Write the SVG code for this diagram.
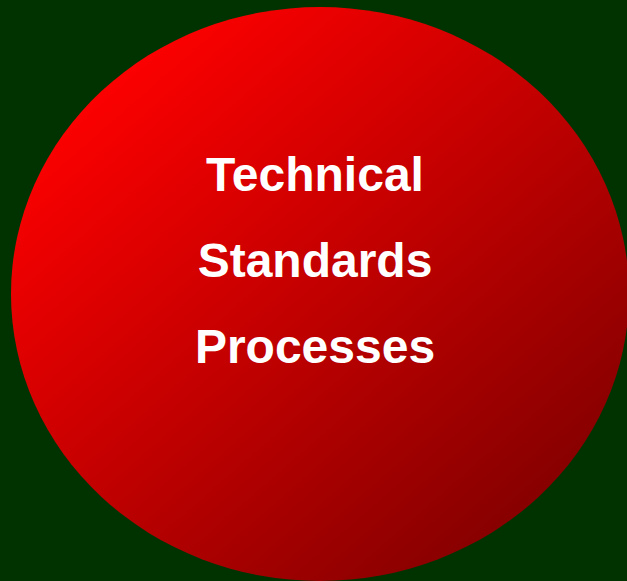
<svg xmlns="http://www.w3.org/2000/svg" width="627" height="581" viewBox="0 0 627 581">
  <defs>
    <linearGradient id="redFill" x1="0.15" y1="0.1" x2="0.9" y2="0.9">
      <stop offset="0" stop-color="#ff0000"/>
      <stop offset="1" stop-color="#800000"/>
    </linearGradient>
    <style>
      .label { font-family: "Liberation Sans", Arial, sans-serif; font-weight: bold; font-size: 48px; fill: #ffffff; text-anchor: middle; }
    </style>
  </defs>
  <rect x="0" y="0" width="627" height="581" fill="#003300"/>
  <g id="circle">
    <ellipse cx="320" cy="294" rx="309" ry="287" fill="url(#redFill)"/>
    <text class="label" x="315" y="191">Technical</text>
    <text class="label" x="315" y="277">Standards</text>
    <text class="label" x="315" y="363">Processes</text>
  </g>
</svg>
